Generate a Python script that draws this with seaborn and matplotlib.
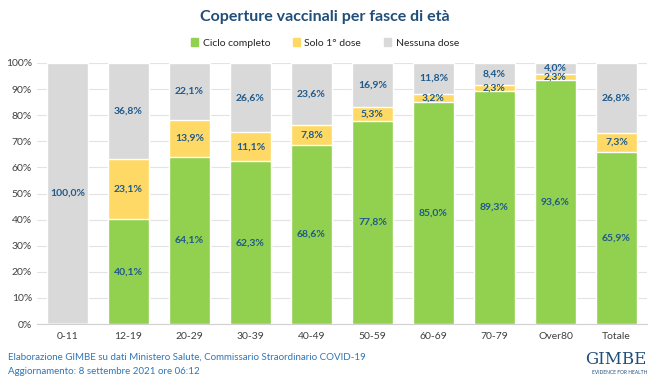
import numpy as np
import pandas as pd
import matplotlib.pyplot as plt
import seaborn as sns
from matplotlib.patches import Patch

# Data (percent)
age_groups = ["0-11", "12-19", "20-29", "30-39", "40-49", "50-59",
              "60-69", "70-79", "Over80", "Totale"]
ciclo_completo = [0.0, 40.1, 64.1, 62.3, 68.6, 77.8, 85.0, 89.3, 93.6, 65.9]
solo_prima_dose = [0.0, 23.1, 13.9, 11.1, 7.8, 5.3, 3.2, 2.3, 2.3, 7.3]
nessuna_dose = [100.0, 36.8, 22.1, 26.6, 23.6, 16.9, 11.8, 8.4, 4.0, 26.8]

GREEN = "#92d050"
YELLOW = "#ffd966"
GREY = "#d9d9d9"
LABEL_BLUE = "#1f5a8c"
TITLE_BLUE = "#1f4e79"


def fmt(v):
    return f"{v:.1f}%".replace(".", ",")


def main():
    sns.set_style("white")
    plt.rcParams["font.family"] = ["Lato", "DejaVu Sans"]

    df = pd.DataFrame({
        "age": age_groups,
        "green": ciclo_completo,
        "yellow": solo_prima_dose,
        "grey": nessuna_dose,
    })
    df["top_yellow"] = df["green"] + df["yellow"]
    df["top_grey"] = df["top_yellow"] + df["grey"]

    fig = plt.figure(figsize=(6.5, 3.84), dpi=100)
    ax = fig.add_axes([37 / 650, 60 / 384, 610 / 650, 261 / 384])

    # stacked bars drawn back to front
    sns.barplot(data=df, x="age", y="top_grey", color=GREY, width=0.66,
                saturation=1, ax=ax, zorder=2)
    sns.barplot(data=df, x="age", y="top_yellow", color=YELLOW, width=0.66,
                saturation=1, ax=ax, zorder=3)
    sns.barplot(data=df, x="age", y="green", color=GREEN, width=0.66,
                saturation=1, ax=ax, zorder=4)

    # segment labels
    for i, row in df.iterrows():
        segs = [(0, row["green"]), (row["green"], row["yellow"]),
                (row["top_yellow"], row["grey"])]
        for base, h in segs:
            if h <= 0:
                continue
            ax.text(i, base + h / 2, fmt(h), ha="center", va="center",
                    fontsize=7.5, fontweight="bold", color=LABEL_BLUE, zorder=5)

    ax.set_ylim(0, 100)
    ax.set_xlim(-0.5, len(age_groups) - 0.5)
    ax.set_yticks(np.arange(0, 101, 10))
    ax.set_yticklabels([f"{t}%" for t in range(0, 101, 10)])
    ax.yaxis.grid(True, color="#e3e3e3", linewidth=0.8, zorder=0)
    ax.set_axisbelow(True)
    ax.tick_params(axis="both", labelsize=7.5, colors="#404040", length=0)
    ax.tick_params(axis="x", pad=6)
    ax.set_xlabel("")
    ax.set_ylabel("")
    for side in ["top", "right", "left"]:
        ax.spines[side].set_visible(False)
    ax.spines["bottom"].set_color("#d0d0d0")

    fig.text(0.5, 1 - 17 / 384, "Coperture vaccinali per fasce di età",
             ha="center", va="center", fontsize=11.5, fontweight="bold",
             color=TITLE_BLUE)

    handles = [Patch(color=GREEN, label="Ciclo completo"),
               Patch(color=YELLOW, label="Solo 1° dose"),
               Patch(color=GREY, label="Nessuna dose")]
    fig.legend(handles=handles, loc="center", bbox_to_anchor=(0.5, 1 - 43 / 384),
               ncol=3, frameon=False, fontsize=7.5, handlelength=0.7,
               handleheight=0.7, columnspacing=2.2, handletextpad=0.4)

    fig.text(8 / 650, 1 - 357 / 384,
             "Elaborazione GIMBE su dati Ministero Salute, Commissario Straordinario COVID-19",
             ha="left", va="center", fontsize=7, color="#2e75b6")
    fig.text(8 / 650, 1 - 372 / 384, "Aggiornamento: 8 settembre 2021 ore 06:12",
             ha="left", va="center", fontsize=7, color="#2e75b6")

    fig.text(647 / 650, 1 - 359 / 384, "GIMBE", ha="right", va="center",
             fontsize=12, color=TITLE_BLUE, family=["DejaVu Serif"])
    fig.text(647 / 650, 1 - 372 / 384, "EVIDENCE FOR HEALTH", ha="right",
             va="center", fontsize=3.5, color=TITLE_BLUE)

    fig.savefig("out.png", dpi=100)
    plt.close(fig)


if __name__ == "__main__":
    main()
